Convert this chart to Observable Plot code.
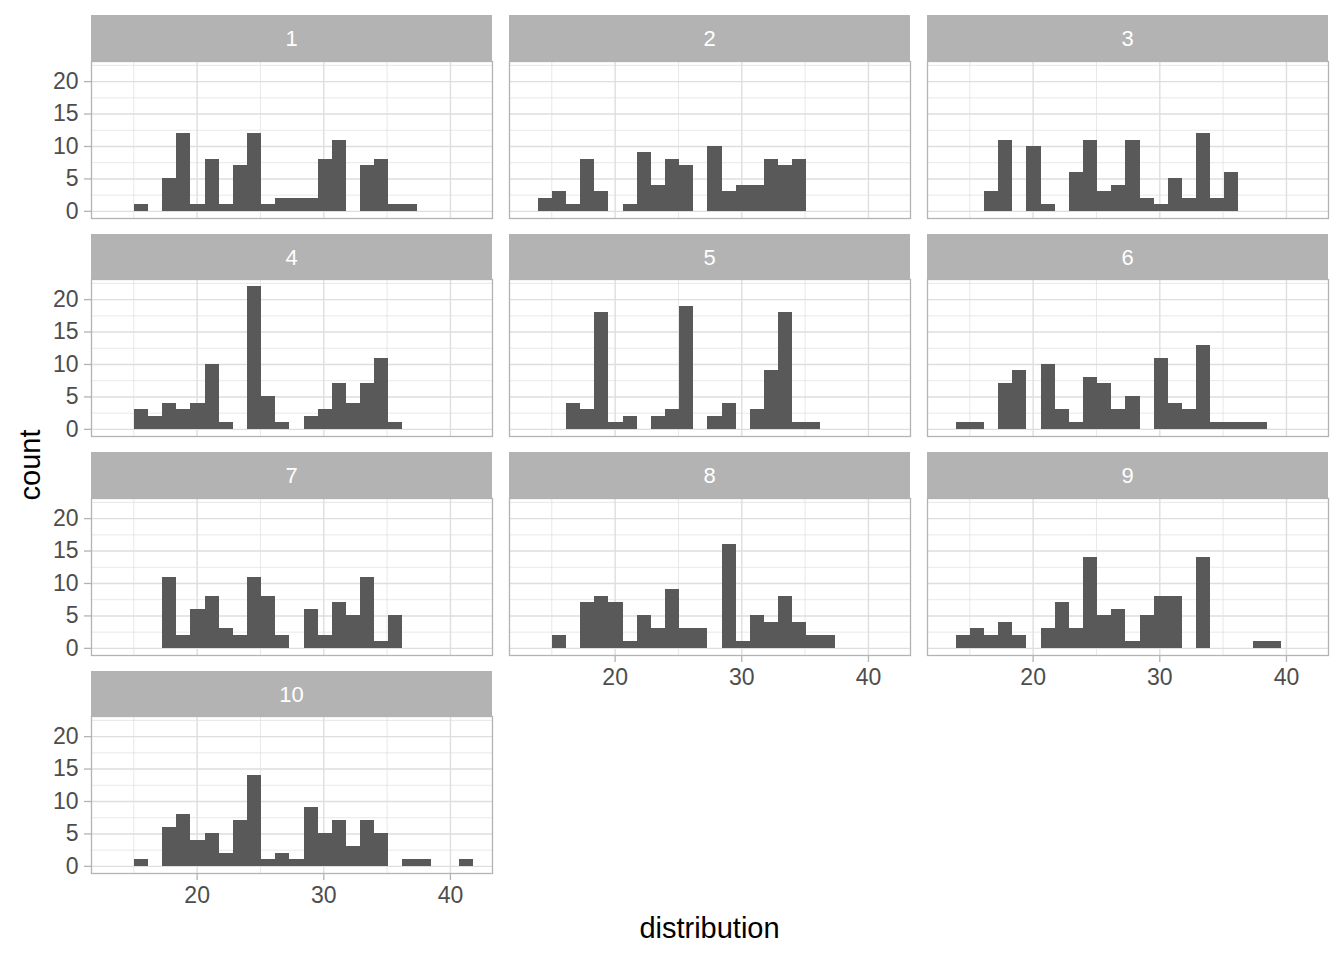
<!DOCTYPE html>
<html><head><meta charset="utf-8">
<script src="https://cdn.jsdelivr.net/npm/d3@7"></script>
<script src="https://cdn.jsdelivr.net/npm/@observablehq/plot@0.6"></script>
<style>
body{margin:0;background:#fff;}
#chart{position:relative;width:1344px;height:960px;overflow:hidden;font-family:"Liberation Sans",Arial,sans-serif;}
.strip{position:absolute;background:#B3B3B3;color:#fff;font-size:22px;display:flex;align-items:center;justify-content:center;box-sizing:border-box;padding-top:3px;}
.panel{position:absolute;}
.title{position:absolute;color:#000;font-size:29px;white-space:nowrap;}
</style></head><body><div id="chart"></div>
<script>
// ---- data ----
const panelNames = ["1","2","3","4","5","6","7","8","9","10"];
const binStart = 13.93;   // left edge of the first bin (distribution units)
const binWidth = 1.116;   // histogram bin width
const counts1  = [0,1,0,5,12,1,8,1,7,12,1,2,2,2,8,11,0,7,8,1,1,0,0,0,0];
const counts2  = [2,3,1,8,3,0,1,9,4,8,7,0,10,3,4,4,8,7,8,0,0,0,0,0,0];
const counts3  = [0,0,3,11,0,10,1,0,6,11,3,4,11,2,1,5,2,12,2,6,0,0,0,0,0];
const counts4  = [0,3,2,4,3,4,10,1,0,22,5,1,0,2,3,7,4,7,11,1,0,0,0,0,0];
const counts5  = [0,0,4,3,18,1,2,0,2,3,19,0,2,4,0,3,9,18,1,1,0,0,0,0,0];
const counts6  = [1,1,0,7,9,0,10,3,1,8,7,3,5,0,11,4,3,13,1,1,1,1,0,0,0];
const counts7  = [0,0,0,11,2,6,8,3,2,11,8,2,0,6,2,7,5,11,1,5,0,0,0,0,0];
const counts8  = [0,2,0,7,8,7,1,5,3,9,3,3,0,16,1,5,4,8,4,2,2,0,0,0,0];
const counts9  = [2,3,2,4,2,0,3,7,3,14,5,6,1,5,8,8,0,14,0,0,0,1,1,0,0];
const counts10 = [0,1,0,6,8,4,5,2,7,14,1,2,1,9,5,7,3,7,5,0,1,1,0,0,1];
const allCounts = [counts1,counts2,counts3,counts4,counts5,counts6,counts7,counts8,counts9,counts10];
const yTicks = [0,5,10,15,20];
const yMinorTicks = [2.5,7.5,12.5,17.5,22.5];
const xTicks = [20,30,40];
const xMinorTicks = [15,25,35];
const xTitle = "distribution";
const yTitle = "count";

// ---- layout ----
const xDomain = [11.66, 43.32];
const yDomain = [-1.1, 23.1];
const colLeft = [91, 509, 927];
const panelW = 401, panelH = 157, stripH = 45.5, rowPitch = 218.5, firstTop = 15;
const xAxisPanels = new Set([7,8,9]);

const chart = document.getElementById("chart");

allCounts.forEach((counts, p) => {
  const col = p % 3, row = Math.floor(p / 3);
  const stripTop = firstTop + row * rowPitch;
  const panelTop = stripTop + stripH;
  const left = colLeft[col];

  const strip = document.createElement("div");
  strip.className = "strip";
  strip.style.left = left + "px";
  strip.style.top = stripTop + "px";
  strip.style.width = panelW + "px";
  strip.style.height = stripH + "px";
  strip.textContent = panelNames[p];
  chart.appendChild(strip);

  const bins = counts.map((c, i) => ({x1: binStart + i * binWidth, x2: binStart + (i + 1) * binWidth, count: c}))
                     .filter(d => d.count > 0);

  const mL = col === 0 ? left : 0;
  const mB = xAxisPanels.has(p) ? 45 : 0;

  const marks = [
    Plot.gridY(yMinorTicks, {stroke: "#DEDEDE", strokeOpacity: 1, strokeWidth: 0.7}),
    Plot.gridX(xMinorTicks, {stroke: "#DEDEDE", strokeOpacity: 1, strokeWidth: 0.7}),
    Plot.gridY(yTicks, {stroke: "#DEDEDE", strokeOpacity: 1, strokeWidth: 1.4}),
    Plot.gridX(xTicks, {stroke: "#DEDEDE", strokeOpacity: 1, strokeWidth: 1.4}),
    Plot.rectY(bins, {x1: "x1", x2: "x2", y1: 0, y2: "count", fill: "#595959", inset: 0, shapeRendering: "crispEdges"}),
    Plot.frame({stroke: "#B3B3B3", strokeWidth: 1.3})
  ];
  if (col === 0) {
    marks.push(Plot.axisY(yTicks, {anchor: "left", tickSize: 7, tickPadding: 6, fontSize: 23,
      stroke: "#B3B3B3", strokeWidth: 1.3, fill: "#4D4D4D", label: null}));
  }
  if (xAxisPanels.has(p)) {
    marks.push(Plot.axisX(xTicks, {anchor: "bottom", tickSize: 7, tickPadding: 6, fontSize: 23,
      stroke: "#B3B3B3", strokeWidth: 1.3, fill: "#4D4D4D", label: null}));
  }

  const svg = Plot.plot({
    width: panelW + mL,
    height: panelH + mB,
    marginLeft: mL, marginRight: 0, marginTop: 0, marginBottom: mB,
    x: {domain: xDomain, axis: null},
    y: {domain: yDomain, axis: null},
    style: {fontFamily: "Liberation Sans, Arial, sans-serif", fontSize: "23px", background: "transparent", overflow: "visible", color: "#4D4D4D"},
    marks
  });
  svg.classList.add("panel");
  svg.style.position = "absolute";
  svg.style.left = (left - mL) + "px";
  svg.style.top = panelTop + "px";
  chart.appendChild(svg);
});

const xt = document.createElement("div");
xt.className = "title";
xt.textContent = xTitle;
xt.style.left = "709.5px";
xt.style.top = "928px";
xt.style.transform = "translate(-50%,-50%)";
chart.appendChild(xt);

const yt = document.createElement("div");
yt.className = "title";
yt.textContent = yTitle;
yt.style.left = "30px";
yt.style.top = "465px";
yt.style.transform = "translate(-50%,-50%) rotate(-90deg)";
chart.appendChild(yt);
</script>
</body></html>
